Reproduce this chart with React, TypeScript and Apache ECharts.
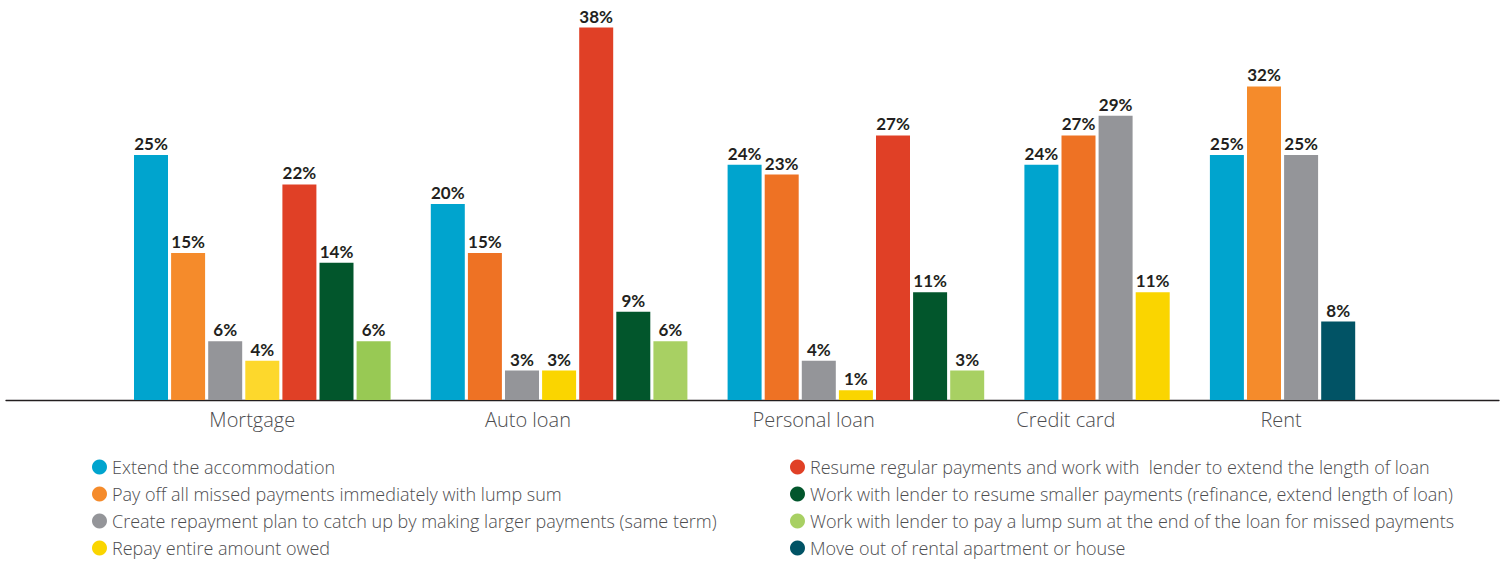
import React, { useEffect, useRef } from "react";
import * as echarts from "echarts";

// ---------- data ----------
const categories = ["Mortgage", "Auto loan", "Personal loan", "Credit card", "Rent"];

const seriesNames = [
  "Extend the accommodation",
  "Pay off all missed payments immediately with lump sum",
  "Create repayment plan to catch up by making larger payments (same term)",
  "Repay entire amount owed",
  "Resume regular payments and work with  lender to extend the length of loan",
  "Work with lender to resume smaller payments (refinance, extend length of loan)",
  "Work with lender to pay a lump sum at the end of the loan for missed payments",
  "Move out of rental apartment or house",
];

const extendAccommodation = [25, 20, 24, 24, 25];
const payOffLumpSum = [15, 15, 23, 27, 32];
const createRepaymentPlan = [6, 3, 4, 29, 25];
const repayEntireAmount = [4, 3, 1, 11, null];
const resumeRegularPayments = [22, 38, 27, null, null];
const resumeSmallerPayments = [14, 9, 11, null, null];
const lumpSumAtEnd = [6, 6, 3, null, null];
const moveOut = [null, null, null, null, 8];

const seriesValues: (number | null)[][] = [
  extendAccommodation,
  payOffLumpSum,
  createRepaymentPlan,
  repayEntireAmount,
  resumeRegularPayments,
  resumeSmallerPayments,
  lumpSumAtEnd,
  moveOut,
];

// ---------- style ----------
const seriesColors = [
  "#00A4CE",
  "#F58B2B",
  "#949599",
  "#FAD500",
  "#E04026",
  "#02562C",
  "#A8D063",
  "#015365",
];
// some bars in the original use slightly different shades
const colorVariants: Record<number, Record<number, string>> = {
  1: { 1: "#EE7224", 2: "#EE7224", 3: "#EE7224" },
  3: { 0: "#FDD82C" },
  6: { 0: "#98C954" },
};

// layout (in slot units): slot pitch ~37px, first bar centre at x=151
const SLOT_PX = 37.1;
const GRID_LEFT = 6;
const GRID_RIGHT = 6;
const FIRST_CENTER_PX = 151;
const WIDTH = 1505;
const HEIGHT = 562;
const labelShift = [-0.27, -0.84, -1.14, -0.84, -0.04];

// ---------- build slots ----------
const slotOf: (number | null)[][] = seriesValues.map(() => categories.map(() => null));
const groupCenters: number[] = [];
{
  let slot = 0;
  categories.forEach((_, ci) => {
    const start = slot;
    seriesValues.forEach((vals, si) => {
      if (vals[ci] != null) {
        slotOf[si][ci] = slot;
        slot++;
      }
    });
    groupCenters.push((start + slot - 1) / 2);
    slot++; // gap between groups
  });
}
const labelPositions = groupCenters.map((c, i) => c + labelShift[i]);

const xMin = -(FIRST_CENTER_PX - GRID_LEFT) / SLOT_PX;
const xMax = xMin + (WIDTH - GRID_LEFT - GRID_RIGHT) / SLOT_PX;

const FONT = "'Open Sans', 'Noto Sans', sans-serif";

export default function App() {
  const ref = useRef<HTMLDivElement>(null);

  useEffect(() => {
    if (!ref.current) return;
    const chart = echarts.init(ref.current, undefined, { renderer: "svg" });

    const series = seriesNames.map((name, si) => ({
      type: "bar",
      name,
      barWidth: 34,
      barGap: "-100%",
      itemStyle: { color: seriesColors[si] },
      label: {
        show: true,
        position: "top",
        distance: 3,
        fontFamily: "Lato, 'Open Sans', sans-serif",
        fontWeight: "bold",
        fontSize: 17,
        color: "#231F20",
        formatter: (p: any) => `${p.value[1]}%`,
      },
      data: categories
        .map((_, ci) => {
          const v = seriesValues[si][ci];
          const s = slotOf[si][ci];
          if (v == null || s == null) return null;
          const c = colorVariants[si]?.[ci];
          return c ? { value: [s, v], itemStyle: { color: c } } : { value: [s, v] };
        })
        .filter((d) => d !== null),
    }));

    const legendBase = {
      orient: "vertical",
      icon: "circle",
      itemWidth: 15,
      itemHeight: 15,
      itemGap: 9,
      padding: 0,
      height: 104,
      selectedMode: false,
      textStyle: {
        fontFamily: FONT,
        fontWeight: 300,
        fontSize: 18,
        color: "#4D4D4F",
      },
    };

    chart.setOption({
      animation: false,
      grid: { left: GRID_LEFT, right: GRID_RIGHT, top: 8, bottom: 162 },
      xAxis: {
        type: "value",
        min: xMin,
        max: xMax,
        splitLine: { show: false },
        axisTick: { show: false },
        axisLine: { show: true, onZero: false, lineStyle: { color: "#231F20", width: 1.3 } },
        axisLabel: {
          customValues: labelPositions,
          formatter: (v: number) => {
            let best = 0;
            labelPositions.forEach((p, i) => {
              if (Math.abs(p - v) < Math.abs(labelPositions[best] - v)) best = i;
            });
            return categories[best];
          },
          fontFamily: FONT,
          fontWeight: 300,
          fontSize: 20,
          color: "#4D4D4F",
          margin: 9,
          hideOverlap: false,
        },
      },
      yAxis: { type: "value", min: 0, max: 40, show: false },
      legend: [
        { ...legendBase, left: 92, top: 458, data: seriesNames.slice(0, 4) },
        { ...legendBase, left: 790, top: 458, data: seriesNames.slice(4, 8) },
      ],
      series,
    });

    return () => chart.dispose();
  }, []);

  return (
    <div
      ref={ref}
      style={{ position: "absolute", left: 0, top: 0, width: WIDTH, height: HEIGHT, background: "#fff" }}
    />
  );
}
